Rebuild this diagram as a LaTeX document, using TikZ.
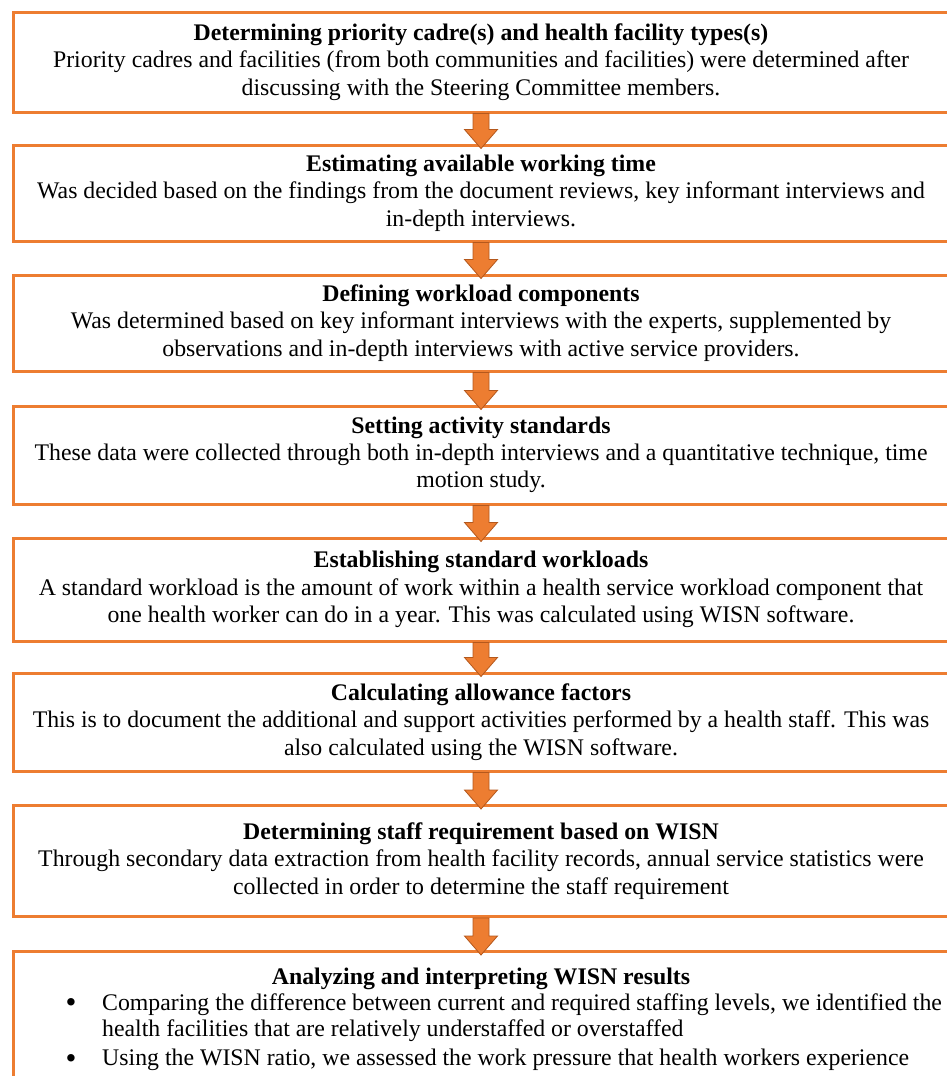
\documentclass[tikz,border=0pt]{standalone}
\usepackage{fontspec}
\setmainfont{Liberation Serif}
\usetikzlibrary{calc}
\definecolor{boxorange}{HTML}{ED7D31}
\definecolor{arrowedge}{HTML}{B4581C}
\newcommand\flowarrow[2]{%
  \draw[blockarr]
    ($(#1.south)+(-8,0)$) -- ($(#1.south)+(8,0)$)
    -- ($(#2.north)+(8,-14)$) -- ($(#2.north)+(16.5,-14)$)
    -- ($(#2.north)+(0,5)$)
    -- ($(#2.north)+(-16.5,-14)$) -- ($(#2.north)+(-8,-14)$) -- cycle;}
\begin{document}
\begin{tikzpicture}[x=1pt,y=-1pt,
  box/.style={draw=boxorange, line width=3pt, minimum width=936pt, align=center,
    inner sep=0pt, font=\fontsize{23.8}{27.3}\selectfont},
  txt/.style={inner sep=0pt, font=\fontsize{23.8}{27.3}\selectfont},
  dot/.style={inner sep=0pt, font=\fontsize{31}{31}\selectfont},
  blockarr/.style={fill=boxorange, draw=arrowedge, line width=0.8pt, line join=miter}]
\useasboundingbox (0,0) rectangle (947,1076);
\clip (0,0) rectangle (947,1076);
\node[box, minimum height=100pt] (b1) at (481,62)
  {\textbf{Determining priority cadre(s) and health facility types(s)}\\
   Priority cadres and facilities (from both communities and facilities) were determined after\\
   discussing with the Steering Committee members.};
\node[box, minimum height=96pt] (b2) at (481,193)
  {\textbf{Estimating available working time}\\
   Was decided based on the findings from the document reviews, key informant interviews and\\
   in-depth interviews.};
\node[box, minimum height=96pt] (b3) at (481,323)
  {\textbf{Defining workload components}\\
   Was determined based on key informant interviews with the experts, supplemented by\\
   observations and in-depth interviews with active service providers.};
\node[box, minimum height=98pt] (b4) at (481,455)
  {\textbf{Setting activity standards}\\
   These data were collected through both in-depth interviews and a quantitative technique, time\\
   motion study.};
\node[box, minimum height=103pt] (b5) at (481,589.5)
  {\textbf{Establishing standard workloads}\\
   A standard workload is the amount of work within a health service workload component that\\
   one health worker can do in a year. This was calculated using WISN software.};
\node[box, minimum height=98pt] (b6) at (481,722)
  {\textbf{Calculating allowance factors}\\
   This is to document the additional and support activities performed by a health staff. This was\\
   also calculated using the WISN software.};
\node[box, minimum height=111pt] (b7) at (481,861)
  {\textbf{Determining staff requirement based on WISN}\\
   Through secondary data extraction from health facility records, annual service statistics were\\
   collected in order to determine the staff requirement};
\node[box, minimum height=140pt, anchor=north] (b8) at (481,950) {};
\node[txt, anchor=base] (t8) at (481,984) {\textbf{Analyzing and interpreting WISN results}};
\node[dot, anchor=center] (d1) at (71,1006) {•};
\node[txt, anchor=base west] (l1) at (102,1010)
  {Comparing the difference between current and required staffing levels, we identified the};
\node[txt, anchor=base west] (l2) at (102,1036)
  {health facilities that are relatively understaffed or overstaffed};
\node[dot, anchor=center] (d2) at (71,1062) {•};
\node[txt, anchor=base west] (l3) at (102,1065)
  {Using the WISN ratio, we assessed the work pressure that health workers experience};
\flowarrow{b1}{b2}
\flowarrow{b2}{b3}
\flowarrow{b3}{b4}
\flowarrow{b4}{b5}
\flowarrow{b5}{b6}
\flowarrow{b6}{b7}
\flowarrow{b7}{b8}
\end{tikzpicture}
\end{document}
